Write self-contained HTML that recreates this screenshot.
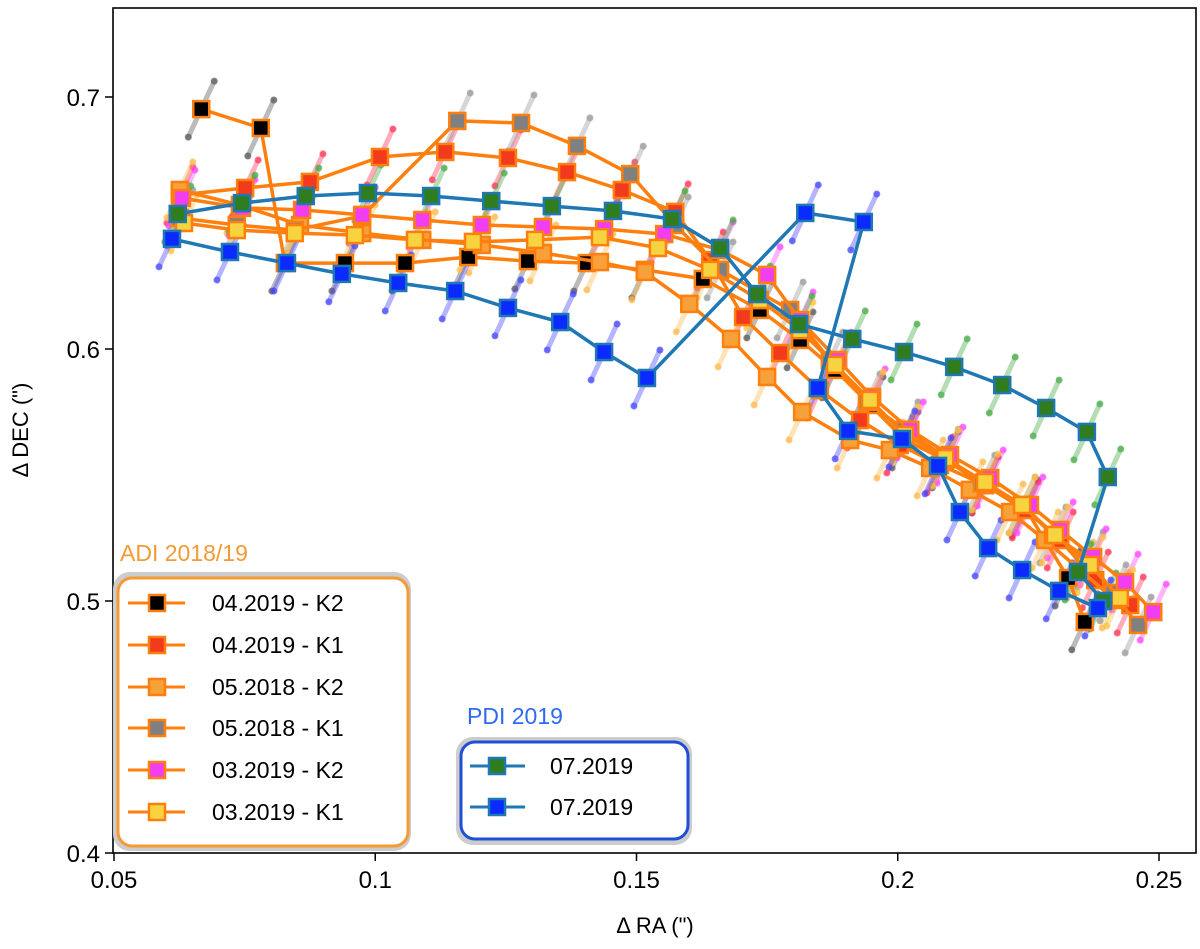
<!DOCTYPE html>
<html><head><meta charset="utf-8"><style>
html,body{margin:0;padding:0;background:#fff;}
svg text{font-family:"Liberation Sans","DejaVu Sans",sans-serif;}
</style></head><body>
<svg id="chart" width="1200" height="944" xmlns="http://www.w3.org/2000/svg">
<g id="plot"></g>
<g id="axes"></g>
</svg>
<script>
const blackX=[.0667,.0781,.0827,.0942,.1057,.1178,.1292,.1405,.1516,.1627,.1736,.1813,.1880,.1947,.2014,.2091,.2167,.2244,.2326,.2358];
const blackY=[.6952,.6877,.6341,.6341,.6341,.6365,.6349,.6341,.6314,.6278,.6155,.6036,.5917,.5778,.5639,.5560,.5460,.5369,.5091,.4917];
const redX=[.0626,.0751,.0875,.1009,.1134,.1254,.1367,.1472,.1574,.1641,.1704,.1775,.1851,.1928,.2004,.2081,.2167,.2244,.2311,.2378,.2445];
const redY=[.6611,.6639,.6663,.6762,.6782,.6758,.6702,.6631,.6544,.6353,.6127,.5984,.5837,.5718,.5619,.5540,.5460,.5361,.5242,.5083,.4984];
const orangeX=[.0626,.0741,.0856,.0975,.1090,.1204,.1321,.1430,.1516,.1601,.1681,.1750,.1817,.1909,.1985,.2062,.2138,.2215,.2282,.2349,.2416];
const orangeY=[.6631,.6571,.6492,.6460,.6433,.6413,.6381,.6345,.6306,.6179,.6040,.5889,.5750,.5639,.5599,.5528,.5441,.5353,.5242,.5123,.5004];
const grayX=[.0626,.0735,.0846,.0975,.1157,.1279,.1386,.1488,.1574,.1660,.1794,.1870,.1941,.2014,.2091,.2161,.2238,.2297,.2368,.2412,.2460];
const grayY=[.6520,.6492,.6472,.6528,.6905,.6897,.6806,.6694,.6492,.6314,.6155,.5956,.5790,.5679,.5571,.5468,.5381,.5262,.5163,.5032,.4905];
const magentaX=[.0630,.0745,.0860,.0975,.1090,.1204,.1321,.1438,.1553,.1660,.1750,.1813,.1886,.1951,.2024,.2100,.2177,.2253,.2311,.2374,.2435,.2489];
const magentaY=[.6599,.6560,.6552,.6532,.6512,.6492,.6484,.6476,.6456,.6393,.6294,.6115,.5956,.5810,.5679,.5579,.5488,.5381,.5282,.5175,.5075,.4956];
const yellowX=[.0634,.0735,.0846,.0961,.1076,.1187,.1306,.1430,.1541,.1641,.1736,.1813,.1880,.1947,.2014,.2091,.2167,.2238,.2301,.2368,.2425];
const yellowY=[.6500,.6472,.6460,.6452,.6433,.6425,.6433,.6444,.6401,.6314,.6194,.6075,.5937,.5798,.5659,.5567,.5472,.5381,.5262,.5143,.5012];
const greenX=[.0622,.0745,.0867,.0986,.1107,.1222,.1338,.1455,.1568,.1660,.1731,.1811,.1913,.2012,.2108,.2200,.2284,.2362,.2402,.2345,.2393];
const greenY=[.6536,.6579,.6607,.6619,.6607,.6587,.6567,.6548,.6516,.6401,.6218,.6099,.6040,.5988,.5929,.5857,.5766,.5671,.5492,.5115,.5000];
const blueX=[.0611,.0722,.0831,.0936,.1044,.1153,.1254,.1354,.1438,.1520,.1823,.1935,.1847,.1905,.2008,.2077,.2119,.2173,.2238,.2309,.2383];
const blueY=[.6437,.6385,.6341,.6298,.6262,.6230,.6163,.6107,.5988,.5885,.6540,.6504,.5845,.5675,.5643,.5536,.5353,.5210,.5123,.5040,.4972];
const xTicks=[0.05,0.1,0.15,0.2,0.25];
const xTickLabels=["0.05","0.1","0.15","0.2","0.25"];
const yTicks=[0.4,0.5,0.6,0.7];
const yTickLabels=["0.4","0.5","0.6","0.7"];

const NS="http://www.w3.org/2000/svg";
const L=113,R=1196,T=8,B=853;
function sx(v){return 114+(v-0.05)*5225;}
function sy(v){return 97+(0.7-v)*2520;}
function mk(tag,attrs,parent){const e=document.createElementNS(NS,tag);for(const k in attrs)e.setAttribute(k,attrs[k]);parent.appendChild(e);return e;}
const plot=document.getElementById('plot');
const axes=document.getElementById('axes');

const series=[
 {n:'04-2019-k2',x:blackX,y:blackY,fill:'#000000',edge:'#ff7f0e',line:'#ff7f0e',err:'#555555'},
 {n:'04-2019-k1',x:redX,y:redY,fill:'#f23a1c',edge:'#ff7f0e',line:'#ff7f0e',err:'#ff3355'},
 {n:'05-2018-k2',x:orangeX,y:orangeY,fill:'#f6a13a',edge:'#ff7f0e',line:'#ff7f0e',err:'#ffb84d'},
 {n:'05-2018-k1',x:grayX,y:grayY,fill:'#808080',edge:'#ff7f0e',line:'#ff7f0e',err:'#999999'},
 {n:'03-2019-k2',x:magentaX,y:magentaY,fill:'#f03ef0',edge:'#ff7f0e',line:'#ff7f0e',err:'#ff44ff'},
 {n:'03-2019-k1',x:yellowX,y:yellowY,fill:'#f7d43f',edge:'#ff7f0e',line:'#ff7f0e',err:'#ffc040'},
 {n:'07-2019-green',x:greenX,y:greenY,fill:'#2f7d1f',edge:'#1f77b4',line:'#1f77b4',err:'#44aa44'},
 {n:'07-2019-blue',x:blueX,y:blueY,fill:'#0a2aff',edge:'#1f77b4',line:'#1f77b4',err:'#4444ff'}
];
series.forEach(s=>{
  const g=mk('g',{},plot);
  
  
  s.x.forEach((v,i)=>{
    const cx=sx(v),cy=sy(s.y[i]);
    const ln=mk('line',{x1:cx-13,y1:cy+28,x2:cx+13,y2:cy-28,stroke:s.err,'stroke-width':5,'stroke-opacity':0.4,'stroke-linecap':'round'},g);
    
    
    [[cx-13,cy+28],[cx+13,cy-28]].forEach(p=>{const c=mk('circle',{cx:p[0],cy:p[1],r:3.5,fill:s.err,'fill-opacity':0.7},g);
      
      });
  });
});
series.forEach(s=>{
  const g=mk('g',{},plot);
  
  
  const pts=s.x.map((v,i)=>sx(v).toFixed(1)+','+sy(s.y[i]).toFixed(1)).join(' ');
  const pl=mk('polyline',{points:pts,fill:'none',stroke:s.line,'stroke-width':3.5,'stroke-linejoin':'round'},g);
  
  
  s.x.forEach((v,i)=>{
    const r=mk('rect',{x:sx(v)-8,y:sy(s.y[i])-8,width:16,height:16,fill:s.fill,stroke:s.edge,'stroke-width':2.5},g);
    
    
  });
});
const fr=mk('rect',{x:L,y:T,width:R-L,height:B-T,fill:'none',stroke:'#000','stroke-width':1.6},axes);


xTicks.forEach((v,i)=>{
  const t=mk('line',{x1:sx(v),y1:B,x2:sx(v),y2:B+8,stroke:'#000','stroke-width':1.5},axes);
  
  
  const tx=mk('text',{x:sx(v),y:B+35,'text-anchor':'middle','font-size':24,fill:'#000'},axes);
  tx.textContent=xTickLabels[i];
  
  
});
yTicks.forEach((v,i)=>{
  const t=mk('line',{x1:L-8,y1:sy(v),x2:L,y2:sy(v),stroke:'#000','stroke-width':1.5},axes);
  
  
  const tx=mk('text',{x:L-13,y:sy(v)+9,'text-anchor':'end','font-size':24,fill:'#000'},axes);
  tx.textContent=yTickLabels[i];
  
  
});
</script>
<svg width="1200" height="944" style="position:absolute;left:0;top:0" xmlns="http://www.w3.org/2000/svg">
<text x="655" y="933" text-anchor="middle" font-size="22">Δ RA (")</text>
<text x="0" y="0" transform="translate(28,430) rotate(-90)" text-anchor="middle" font-size="22">Δ DEC (")</text>
<g>
<text x="120" y="561" font-size="23" fill="#f39a35">ADI 2018/19</text>
<rect x="116" y="575" width="292" height="273" rx="14" fill="#fff" stroke="#cccccc" stroke-width="6"/>
<rect x="118" y="578" width="290" height="268" rx="14" fill="#fff" stroke="#f39a35" stroke-width="3"/>
<g><line x1="128" y1="603" x2="185" y2="603" stroke="#ff7f0e" stroke-width="3"/><rect x="149" y="595" width="16" height="16" fill="#000" stroke="#ff7f0e" stroke-width="2.5"/><text x="212" y="611" font-size="23">04.2019 - K2</text></g>
<g><line x1="128" y1="645" x2="185" y2="645" stroke="#ff7f0e" stroke-width="3"/><rect x="149" y="637" width="16" height="16" fill="#f23a1c" stroke="#ff7f0e" stroke-width="2.5"/><text x="212" y="653" font-size="23">04.2019 - K1</text></g>
<g><line x1="128" y1="687" x2="185" y2="687" stroke="#ff7f0e" stroke-width="3"/><rect x="149" y="679" width="16" height="16" fill="#f6a13a" stroke="#ff7f0e" stroke-width="2.5"/><text x="212" y="695" font-size="23">05.2018 - K2</text></g>
<g><line x1="128" y1="728" x2="185" y2="728" stroke="#ff7f0e" stroke-width="3"/><rect x="149" y="720" width="16" height="16" fill="#808080" stroke="#ff7f0e" stroke-width="2.5"/><text x="212" y="736" font-size="23">05.2018 - K1</text></g>
<g><line x1="128" y1="770" x2="185" y2="770" stroke="#ff7f0e" stroke-width="3"/><rect x="149" y="762" width="16" height="16" fill="#f03ef0" stroke="#ff7f0e" stroke-width="2.5"/><text x="212" y="778" font-size="23">03.2019 - K2</text></g>
<g><line x1="128" y1="812" x2="185" y2="812" stroke="#ff7f0e" stroke-width="3"/><rect x="149" y="804" width="16" height="16" fill="#f7d43f" stroke="#ff7f0e" stroke-width="2.5"/><text x="212" y="820" font-size="23">03.2019 - K1</text></g>
</g>
<g>
<text x="467" y="724" font-size="23" fill="#2f6bf0">PDI 2019</text>
<rect x="459" y="740" width="230" height="102" rx="14" fill="#fff" stroke="#cccccc" stroke-width="6"/>
<rect x="461" y="742" width="227" height="97" rx="14" fill="#fff" stroke="#1f4fd6" stroke-width="3"/>
<g><line x1="470" y1="766" x2="525" y2="766" stroke="#1f77b4" stroke-width="3"/><rect x="489" y="758" width="16" height="16" fill="#2f7d1f" stroke="#1f77b4" stroke-width="2.5"/><text x="550" y="774" font-size="23">07.2019</text></g>
<g><line x1="470" y1="807" x2="525" y2="807" stroke="#1f77b4" stroke-width="3"/><rect x="489" y="799" width="16" height="16" fill="#0a2aff" stroke="#1f77b4" stroke-width="2.5"/><text x="550" y="815" font-size="23">07.2019</text></g>
</g>
</svg>
</body></html>
